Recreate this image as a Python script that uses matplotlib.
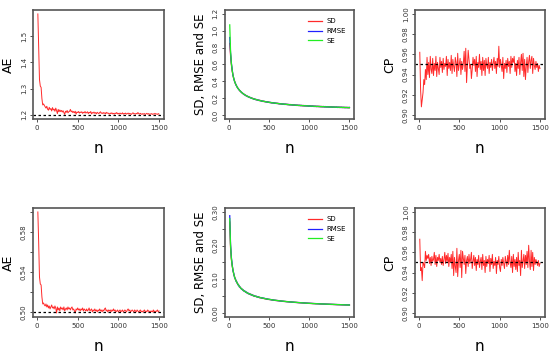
import numpy as np
import matplotlib
matplotlib.use('Agg')
import matplotlib.pyplot as plt

# sample sizes (step 10)
n = list(range(10, 1510, 10))

ae_top = [1.585, 1.46, 1.335, 1.31, 1.305, 1.262, 1.238, 1.242, 1.236, 1.231,
          1.226, 1.233, 1.222, 1.218, 1.229, 1.221, 1.224, 1.215, 1.228, 1.219,
          1.222, 1.214, 1.226, 1.217, 1.205, 1.221, 1.212, 1.219, 1.213, 1.217,
          1.211, 1.216, 1.209, 1.202, 1.214, 1.21, 1.217, 1.208, 1.212, 1.214,
          1.221, 1.212, 1.215, 1.209, 1.213, 1.208, 1.214, 1.203, 1.211, 1.209,
          1.213, 1.207, 1.211, 1.209, 1.212, 1.206, 1.21, 1.208, 1.213, 1.207,
          1.209, 1.212, 1.205, 1.21, 1.208, 1.213, 1.204, 1.209, 1.207, 1.211,
          1.206, 1.209, 1.204, 1.21, 1.207, 1.205, 1.209, 1.212, 1.206, 1.208,
          1.205, 1.209, 1.207, 1.204, 1.21, 1.206, 1.208, 1.205, 1.203, 1.207,
          1.205, 1.208, 1.204, 1.206, 1.203, 1.207, 1.205, 1.209, 1.204, 1.206,
          1.203, 1.207, 1.205, 1.204, 1.208, 1.203, 1.206, 1.204, 1.207, 1.203,
          1.205, 1.207, 1.203, 1.206, 1.204, 1.202, 1.206, 1.208, 1.204, 1.205,
          1.203, 1.206, 1.204, 1.209, 1.205, 1.203, 1.206, 1.204, 1.202, 1.205,
          1.203, 1.205, 1.202, 1.204, 1.206, 1.203, 1.205, 1.202, 1.204, 1.203,
          1.205, 1.202, 1.204, 1.203, 1.206, 1.203, 1.204, 1.202, 1.205, 1.203]

ae_bot = [0.600, 0.57, 0.535, 0.528, 0.527, 0.515, 0.508, 0.509, 0.507, 0.506,
          0.508, 0.505, 0.507, 0.504, 0.506, 0.503, 0.505, 0.507, 0.504, 0.505,
          0.503, 0.506, 0.504, 0.499, 0.505, 0.502, 0.504, 0.501, 0.505, 0.503,
          0.504, 0.502, 0.505, 0.501, 0.503, 0.504, 0.502, 0.505, 0.503, 0.504,
          0.502, 0.504, 0.505, 0.502, 0.503, 0.501, 0.499, 0.503, 0.502, 0.504,
          0.502, 0.503, 0.501, 0.503, 0.502, 0.504, 0.501, 0.503, 0.502, 0.501,
          0.503, 0.501, 0.502, 0.504, 0.501, 0.502, 0.503, 0.500, 0.502, 0.501,
          0.503, 0.501, 0.502, 0.500, 0.502, 0.501, 0.503, 0.501, 0.502, 0.500,
          0.502, 0.501, 0.503, 0.504, 0.501, 0.502, 0.500, 0.502, 0.501, 0.502,
          0.500, 0.502, 0.501, 0.503, 0.501, 0.502, 0.500, 0.501, 0.502, 0.500,
          0.501, 0.502, 0.500, 0.501, 0.502, 0.500, 0.501, 0.502, 0.501, 0.500,
          0.502, 0.503, 0.501, 0.502, 0.500, 0.501, 0.502, 0.501, 0.500, 0.502,
          0.501, 0.500, 0.502, 0.501, 0.500, 0.501, 0.502, 0.500, 0.501, 0.500,
          0.501, 0.502, 0.500, 0.501, 0.500, 0.502, 0.501, 0.500, 0.501, 0.500,
          0.501, 0.500, 0.502, 0.500, 0.501, 0.500, 0.501, 0.502, 0.500, 0.501]

cp_top = [0.962, 0.925, 0.908, 0.915, 0.922, 0.935, 0.93, 0.945, 0.935, 0.957,
          0.94, 0.952, 0.937, 0.958, 0.945, 0.941, 0.956, 0.939, 0.951, 0.944,
          0.958, 0.938, 0.952, 0.946, 0.94, 0.957, 0.947, 0.953, 0.942, 0.956,
          0.945, 0.951, 0.948, 0.958, 0.939, 0.955, 0.946, 0.952, 0.944, 0.959,
          0.941, 0.955, 0.948, 0.943, 0.957, 0.952, 0.938, 0.961, 0.944, 0.95,
          0.956, 0.94, 0.953, 0.945, 0.951, 0.963, 0.943, 0.966, 0.932, 0.949,
          0.964, 0.955, 0.946, 0.95, 0.936, 0.945, 0.957, 0.949, 0.955, 0.943,
          0.958, 0.938, 0.952, 0.947, 0.96, 0.945, 0.953, 0.939, 0.957, 0.944,
          0.954, 0.939, 0.956, 0.949, 0.946, 0.957, 0.941, 0.952, 0.947, 0.955,
          0.944, 0.951, 0.957, 0.946, 0.953, 0.941, 0.956, 0.948, 0.968, 0.947,
          0.955, 0.949, 0.943, 0.957, 0.936, 0.951, 0.946, 0.954, 0.942, 0.956,
          0.948, 0.953, 0.941, 0.958, 0.947, 0.956, 0.952, 0.958, 0.943, 0.951,
          0.939, 0.954, 0.946, 0.957, 0.94, 0.952, 0.96, 0.944, 0.961, 0.938,
          0.955, 0.935, 0.948, 0.957, 0.942, 0.953, 0.959, 0.946, 0.954, 0.958,
          0.941, 0.956, 0.949, 0.945, 0.953, 0.947, 0.951, 0.943, 0.949, 0.946]

cp_bot = [0.973, 0.942, 0.945, 0.932, 0.95, 0.948, 0.945, 0.961, 0.952, 0.957,
          0.954, 0.958, 0.949, 0.955, 0.947, 0.956, 0.951, 0.953, 0.96, 0.948,
          0.957, 0.946, 0.955, 0.952, 0.958, 0.95, 0.954, 0.948, 0.956, 0.947,
          0.953, 0.96, 0.949, 0.957, 0.951, 0.959, 0.946, 0.955, 0.95, 0.958,
          0.944, 0.961, 0.937, 0.955, 0.946, 0.94, 0.964, 0.936, 0.952, 0.958,
          0.945, 0.962, 0.935, 0.961, 0.954, 0.948, 0.957, 0.939, 0.952, 0.956,
          0.946, 0.958, 0.949, 0.953, 0.96, 0.944, 0.951, 0.957, 0.947, 0.955,
          0.942, 0.953, 0.948, 0.957, 0.945, 0.951, 0.955, 0.943, 0.958, 0.947,
          0.952, 0.94, 0.956, 0.946, 0.953, 0.949, 0.957, 0.941, 0.954, 0.948,
          0.958, 0.944, 0.951, 0.947, 0.955, 0.939, 0.952, 0.948, 0.956, 0.945,
          0.941, 0.953, 0.947, 0.955, 0.949, 0.944, 0.956, 0.951, 0.946, 0.957,
          0.948, 0.962, 0.95, 0.945, 0.956, 0.94, 0.958, 0.946, 0.953, 0.943,
          0.955, 0.941, 0.96, 0.947, 0.952, 0.937, 0.962, 0.945, 0.951, 0.958,
          0.944, 0.957, 0.948, 0.961, 0.945, 0.967, 0.951, 0.943, 0.962, 0.946,
          0.96, 0.942, 0.955, 0.948, 0.953, 0.95, 0.947, 0.952, 0.946, 0.949]

sd_top = [0.85, 0.71, 0.6, 0.525, 0.478, 0.428, 0.404, 0.37, 0.357, 0.331,
          0.322, 0.303, 0.297, 0.28, 0.277, 0.262, 0.26, 0.247, 0.246, 0.234,
          0.234, 0.223, 0.224, 0.213, 0.215, 0.205, 0.207, 0.198, 0.2, 0.19,
          0.193, 0.184, 0.187, 0.179, 0.182, 0.174, 0.177, 0.169, 0.173, 0.165,
          0.168, 0.16, 0.165, 0.157, 0.161, 0.153, 0.158, 0.15, 0.155, 0.147,
          0.151, 0.144, 0.148, 0.141, 0.146, 0.139, 0.143, 0.136, 0.141, 0.134,
          0.139, 0.131, 0.136, 0.129, 0.134, 0.127, 0.132, 0.125, 0.13, 0.124,
          0.129, 0.122, 0.127, 0.12, 0.125, 0.118, 0.124, 0.117, 0.122, 0.115,
          0.121, 0.114, 0.119, 0.112, 0.118, 0.111, 0.116, 0.11, 0.115, 0.109,
          0.114, 0.107, 0.113, 0.106, 0.112, 0.105, 0.111, 0.104, 0.109, 0.103,
          0.108, 0.102, 0.107, 0.101, 0.106, 0.1, 0.105, 0.099, 0.104, 0.098,
          0.104, 0.097, 0.103, 0.096, 0.102, 0.095, 0.101, 0.095, 0.1, 0.094,
          0.099, 0.093, 0.099, 0.092, 0.098, 0.091, 0.097, 0.091, 0.096, 0.09,
          0.096, 0.089, 0.095, 0.089, 0.094, 0.088, 0.094, 0.087, 0.093, 0.087,
          0.092, 0.086, 0.092, 0.085, 0.091, 0.085, 0.091, 0.084, 0.09, 0.084]

rmse_top = [0.92, 0.74, 0.62, 0.54, 0.47, 0.436, 0.397, 0.378, 0.35, 0.338,
            0.316, 0.309, 0.291, 0.286, 0.271, 0.268, 0.254, 0.253, 0.24, 0.24,
            0.228, 0.229, 0.218, 0.219, 0.209, 0.211, 0.201, 0.203, 0.194, 0.196,
            0.187, 0.19, 0.181, 0.185, 0.176, 0.18, 0.171, 0.175, 0.167, 0.171,
            0.162, 0.166, 0.159, 0.163, 0.155, 0.159, 0.152, 0.156, 0.149, 0.153,
            0.145, 0.15, 0.142, 0.147, 0.14, 0.145, 0.137, 0.142, 0.135, 0.14,
            0.133, 0.137, 0.13, 0.135, 0.128, 0.133, 0.126, 0.131, 0.124, 0.13,
            0.123, 0.128, 0.121, 0.126, 0.119, 0.124, 0.118, 0.123, 0.116, 0.121,
            0.115, 0.12, 0.113, 0.118, 0.112, 0.117, 0.11, 0.116, 0.109, 0.115,
            0.108, 0.113, 0.107, 0.112, 0.106, 0.111, 0.105, 0.11, 0.103, 0.109,
            0.102, 0.108, 0.101, 0.107, 0.1, 0.106, 0.099, 0.105, 0.098, 0.104,
            0.098, 0.103, 0.097, 0.102, 0.096, 0.101, 0.095, 0.101, 0.094, 0.1,
            0.093, 0.099, 0.093, 0.098, 0.092, 0.097, 0.091, 0.097, 0.09, 0.096,
            0.09, 0.095, 0.089, 0.095, 0.088, 0.094, 0.088, 0.093, 0.087, 0.093,
            0.086, 0.092, 0.086, 0.091, 0.085, 0.091, 0.085, 0.09, 0.084, 0.09]

se_top = [1.07, 0.76, 0.615, 0.532, 0.474, 0.432, 0.4, 0.374, 0.353, 0.335,
          0.319, 0.306, 0.294, 0.283, 0.274, 0.265, 0.257, 0.25, 0.243, 0.237,
          0.231, 0.226, 0.221, 0.216, 0.212, 0.208, 0.204, 0.2, 0.197, 0.193,
          0.19, 0.187, 0.184, 0.182, 0.179, 0.177, 0.174, 0.172, 0.17, 0.168,
          0.165, 0.163, 0.162, 0.16, 0.158, 0.156, 0.155, 0.153, 0.152, 0.15,
          0.148, 0.147, 0.145, 0.144, 0.143, 0.142, 0.14, 0.139, 0.138, 0.137,
          0.136, 0.134, 0.133, 0.132, 0.131, 0.13, 0.129, 0.128, 0.127, 0.127,
          0.126, 0.125, 0.124, 0.123, 0.122, 0.121, 0.121, 0.12, 0.119, 0.118,
          0.118, 0.117, 0.116, 0.115, 0.115, 0.114, 0.113, 0.113, 0.112, 0.112,
          0.111, 0.11, 0.11, 0.109, 0.109, 0.108, 0.108, 0.107, 0.106, 0.106,
          0.105, 0.105, 0.104, 0.104, 0.103, 0.103, 0.102, 0.102, 0.101, 0.101,
          0.101, 0.1, 0.1, 0.099, 0.099, 0.098, 0.098, 0.098, 0.097, 0.097,
          0.096, 0.096, 0.096, 0.095, 0.095, 0.094, 0.094, 0.094, 0.093, 0.093,
          0.093, 0.092, 0.092, 0.092, 0.091, 0.091, 0.091, 0.09, 0.09, 0.09,
          0.089, 0.089, 0.089, 0.088, 0.088, 0.088, 0.088, 0.087, 0.087, 0.087]

sd_bot = [0.27, 0.195, 0.16, 0.14, 0.129, 0.114, 0.108, 0.099, 0.096, 0.089,
          0.087, 0.081, 0.08, 0.075, 0.074, 0.07, 0.07, 0.066, 0.066, 0.063,
          0.063, 0.06, 0.06, 0.057, 0.058, 0.055, 0.056, 0.053, 0.054, 0.051,
          0.052, 0.049, 0.05, 0.048, 0.049, 0.047, 0.048, 0.045, 0.046, 0.044,
          0.045, 0.043, 0.044, 0.042, 0.043, 0.041, 0.042, 0.04, 0.041, 0.0395,
          0.0405, 0.039, 0.0395, 0.038, 0.039, 0.0375, 0.038, 0.0368, 0.0376, 0.0362,
          0.037, 0.0357, 0.0364, 0.035, 0.0358, 0.0345, 0.0353, 0.034, 0.0348, 0.0336,
          0.0344, 0.0331, 0.0339, 0.0327, 0.0335, 0.0323, 0.0331, 0.0319, 0.0327, 0.0315,
          0.0323, 0.0311, 0.0319, 0.0307, 0.0315, 0.0303, 0.0311, 0.03, 0.0308, 0.0296,
          0.0305, 0.0293, 0.0302, 0.029, 0.0298, 0.0287, 0.0295, 0.0284, 0.0292, 0.0281,
          0.029, 0.0278, 0.0287, 0.0275, 0.0284, 0.0273, 0.0282, 0.027, 0.0279, 0.0268,
          0.0277, 0.0266, 0.0274, 0.0263, 0.0272, 0.0261, 0.027, 0.0259, 0.0268, 0.0257,
          0.0266, 0.0255, 0.0264, 0.0253, 0.0262, 0.0251, 0.026, 0.0249, 0.0258, 0.0247,
          0.0256, 0.0245, 0.0254, 0.0243, 0.0252, 0.0241, 0.0251, 0.024, 0.0249, 0.0238,
          0.0247, 0.0236, 0.0246, 0.0235, 0.0244, 0.0233, 0.0243, 0.0232, 0.0241, 0.0231]

rmse_bot = [0.289, 0.205, 0.166, 0.145, 0.125, 0.118, 0.105, 0.102, 0.093, 0.092,
            0.084, 0.084, 0.077, 0.077, 0.072, 0.072, 0.068, 0.068, 0.064, 0.065,
            0.061, 0.062, 0.058, 0.059, 0.056, 0.057, 0.054, 0.055, 0.052, 0.053,
            0.05, 0.051, 0.049, 0.05, 0.047, 0.048, 0.046, 0.047, 0.045, 0.046,
            0.044, 0.045, 0.043, 0.044, 0.042, 0.043, 0.041, 0.042, 0.04, 0.041,
            0.0395, 0.0402, 0.0386, 0.0393, 0.0379, 0.0386, 0.0373, 0.038, 0.0367, 0.0374,
            0.0361, 0.0368, 0.0355, 0.0362, 0.0349, 0.0356, 0.0344, 0.0351, 0.0339, 0.0346,
            0.0334, 0.0341, 0.033, 0.0337, 0.0326, 0.0333, 0.0322, 0.0329, 0.0318, 0.0325,
            0.0314, 0.0321, 0.031, 0.0317, 0.0307, 0.0313, 0.0303, 0.031, 0.03, 0.0306,
            0.0297, 0.0303, 0.0294, 0.03, 0.0291, 0.0297, 0.0288, 0.0294, 0.0285, 0.0291,
            0.0283, 0.0288, 0.028, 0.0285, 0.0277, 0.0283, 0.0275, 0.028, 0.0272, 0.0278,
            0.027, 0.0276, 0.0267, 0.0273, 0.0265, 0.0271, 0.0263, 0.0269, 0.0261, 0.0267,
            0.0259, 0.0265, 0.0257, 0.0263, 0.0255, 0.0261, 0.0253, 0.0259, 0.0251, 0.0257,
            0.0249, 0.0255, 0.0247, 0.0253, 0.0245, 0.0251, 0.0244, 0.025, 0.0242, 0.0248,
            0.024, 0.0246, 0.0239, 0.0245, 0.0237, 0.0243, 0.0236, 0.0242, 0.0234, 0.024]

se_bot = [0.28, 0.2, 0.163, 0.142, 0.127, 0.116, 0.107, 0.1, 0.095, 0.09,
          0.086, 0.082, 0.079, 0.076, 0.073, 0.071, 0.069, 0.067, 0.065, 0.064,
          0.062, 0.061, 0.059, 0.058, 0.057, 0.056, 0.055, 0.054, 0.053, 0.052,
          0.051, 0.05, 0.0495, 0.049, 0.048, 0.0475, 0.047, 0.046, 0.0455, 0.045,
          0.0445, 0.044, 0.0435, 0.043, 0.0425, 0.042, 0.0415, 0.041, 0.0407, 0.0403,
          0.04, 0.0396, 0.039, 0.0387, 0.0384, 0.038, 0.0377, 0.0374, 0.0371, 0.0368,
          0.0365, 0.0362, 0.0359, 0.0356, 0.0353, 0.035, 0.0348, 0.0346, 0.0343, 0.0341,
          0.0339, 0.0336, 0.0334, 0.0332, 0.033, 0.0328, 0.0326, 0.0324, 0.0322, 0.032,
          0.0318, 0.0316, 0.0314, 0.0312, 0.031, 0.0308, 0.0306, 0.0305, 0.0303, 0.0301,
          0.03, 0.0298, 0.0297, 0.0295, 0.0293, 0.0292, 0.029, 0.0289, 0.0287, 0.0286,
          0.0285, 0.0283, 0.0282, 0.028, 0.0279, 0.0278, 0.0277, 0.0275, 0.0274, 0.0273,
          0.0272, 0.0271, 0.0269, 0.0268, 0.0267, 0.0266, 0.0265, 0.0264, 0.0263, 0.0262,
          0.0261, 0.026, 0.0259, 0.0258, 0.0257, 0.0256, 0.0255, 0.0254, 0.0253, 0.0252,
          0.0251, 0.025, 0.0249, 0.0248, 0.0247, 0.0246, 0.0246, 0.0245, 0.0244, 0.0243,
          0.0242, 0.0241, 0.0241, 0.024, 0.0239, 0.0238, 0.0238, 0.0237, 0.0236, 0.0235]

# true values shown as dotted reference lines
ae_true = [1.2, 0.5]
cp_nominal = 0.95

x_ticks = [0, 500, 1000, 1500]
ae_ticks = [[1.2, 1.3, 1.4, 1.5], [0.50, 0.52, 0.54, 0.56, 0.58, 0.60]]
ae_labels = [['1.2', '1.3', '1.4', '1.5'], ['0.50', '', '0.54', '', '0.58', '']]
sd_ticks = [[0.0, 0.2, 0.4, 0.6, 0.8, 1.0, 1.2],
            [0.0, 0.05, 0.10, 0.15, 0.20, 0.25, 0.30]]
sd_labels = [['0.0', '0.2', '0.4', '0.6', '0.8', '1.0', '1.2'],
             ['0.00', '', '0.10', '', '0.20', '', '0.30']]
cp_ticks = [0.90, 0.92, 0.94, 0.96, 0.98, 1.00]
cp_labels = ['0.90', '0.92', '0.94', '0.96', '0.98', '1.00']

RED = '#ff2a2a'
BLUE = '#2020ff'
GREEN = '#22ee22'


def r_range(lo, hi):
    pad = (hi - lo) * 0.04
    return lo - pad, hi + pad


def style(ax, yticks, ylabels):
    ax.set_xticks(x_ticks)
    ax.set_xticklabels([str(t) for t in x_ticks])
    ax.set_yticks(yticks)
    ax.set_yticklabels(ylabels, rotation=90, va='center')
    ax.tick_params(labelsize=5, length=2.5, width=0.6, colors='#333333', pad=2)
    for s in ax.spines.values():
        s.set_color('#555555')
        s.set_linewidth(1.2)
    ax.set_xlabel('n', fontsize=11, labelpad=7)
    ax.set_xlim(r_range(10, 1500))


fig = plt.figure(figsize=(5.5, 3.53), dpi=100)
lefts = [0.06, 0.409, 0.7545]
widths = [0.238, 0.235, 0.236]
bottoms = [0.663, 0.102]
h = 0.309

ae_data = [ae_top, ae_bot]
sd_data = [(sd_top, rmse_top, se_top), (sd_bot, rmse_bot, se_bot)]
cp_data = [cp_top, cp_bot]
sd_lims = [(0, 1.2), (0, 0.3)]

for r in range(2):
    b = bottoms[r]
    # AE panel
    ax = fig.add_axes([lefts[0], b, widths[0], h])
    ax.plot(n, ae_data[r], color=RED, lw=0.7)
    ax.axhline(ae_true[r], color='black', ls=(0, (2, 2)), lw=0.9)
    ax.set_ylim(r_range(min(ae_data[r] + [ae_true[r]]), max(ae_data[r])))
    style(ax, ae_ticks[r], ae_labels[r])
    ax.set_ylabel('AE', fontsize=9, labelpad=4)

    # SD / RMSE / SE panel
    ax = fig.add_axes([lefts[1], b, widths[1], h])
    sd, rm, se = sd_data[r]
    ax.plot(n, sd, color=RED, lw=0.9, label='SD')
    ax.plot(n, rm, color=BLUE, lw=0.9, label='RMSE')
    ax.plot(n, se, color=GREEN, lw=0.9, label='SE')
    ax.set_ylim(r_range(*sd_lims[r]))
    style(ax, sd_ticks[r], sd_labels[r])
    ax.set_ylabel('SD, RMSE and SE', fontsize=8.5, labelpad=4)
    ax.legend(loc='upper right', frameon=False, fontsize=5, handlelength=2.0,
              handletextpad=0.6, labelspacing=0.55, borderaxespad=0.8)

    # CP panel
    ax = fig.add_axes([lefts[2], b, widths[2], h])
    ax.plot(n, cp_data[r], color=RED, lw=0.7)
    ax.axhline(cp_nominal, color='black', ls=(0, (2, 2)), lw=0.9)
    ax.set_ylim(r_range(0.90, 1.00))
    style(ax, cp_ticks, cp_labels)
    ax.set_ylabel('CP', fontsize=9, labelpad=5)

fig.savefig('out.png', dpi=100)
